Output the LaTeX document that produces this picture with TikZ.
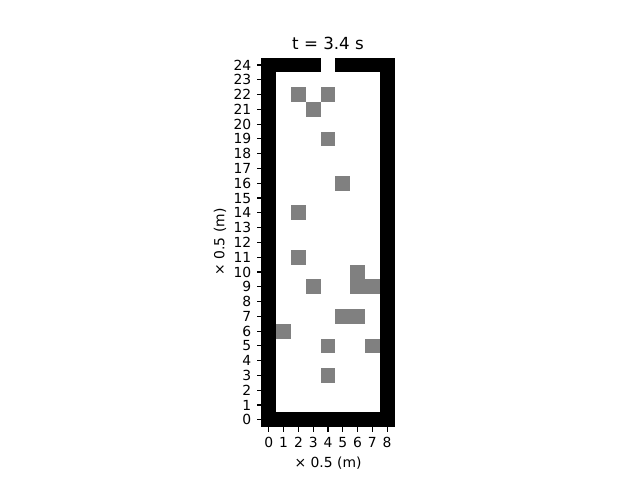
\documentclass[tikz,border=0pt]{standalone}
\usepackage{fontspec}
\setmainfont{DejaVu Sans}
\begin{document}
\begin{tikzpicture}[x=0.72pt,y=-0.72pt,
  wall/.style={fill=black},
  obs/.style={fill=black!50},
  tickline/.style={line width=0.8pt,black},
  ticklab/.style={font=\fontsize{10}{12}\selectfont, inner sep=0pt},
  axlab/.style={font=\fontsize{10}{12}\selectfont, inner sep=0pt},
  titlelab/.style={font=\fontsize{12}{14}\selectfont, inner sep=0pt}]
\useasboundingbox (0,0) rectangle (640,480);
\def\X{261.47}\def\Y{427.2}\def\c{14.784}
% walls
\fill[wall] (\X,\Y) rectangle ({\X+\c},{\Y-25*\c});
\fill[wall] ({\X+8*\c},\Y) rectangle ({\X+9*\c},{\Y-25*\c});
\fill[wall] (\X,\Y) rectangle ({\X+9*\c},{\Y-\c});
\fill[wall] (\X,{\Y-24*\c}) rectangle ({\X+4*\c},{\Y-25*\c});
\fill[wall] ({\X+5*\c},{\Y-24*\c}) rectangle ({\X+9*\c},{\Y-25*\c});
% obstacles
\foreach \i/\j in {2/22,4/22,3/21,4/19,5/16,2/14,2/11,6/10,3/9,6/9,7/9,5/7,6/7,1/6,4/5,7/5,4/3}
  \fill[obs] ({\X+\i*\c},{\Y-\j*\c}) rectangle ({\X+(\i+1)*\c},{\Y-(\j+1)*\c});
% x ticks
\foreach \i in {0,...,8}{
  \coordinate (xa\i) at ({\X+(\i+0.5)*\c},\Y);
  \coordinate (xb\i) at ({\X+(\i+0.5)*\c},{\Y+4.86});
  \draw[tickline] (xa\i) -- (xb\i);
  \node[ticklab,anchor=north] (xt\i) at ({\X+(\i+0.5)*\c},{\Y+9.9}) {\i};
}
% y ticks
\foreach \j in {0,...,24}{
  \coordinate (ya\j) at (\X,{\Y-(\j+0.5)*\c});
  \coordinate (yb\j) at ({\X-4.86},{\Y-(\j+0.5)*\c});
  \draw[tickline] (ya\j) -- (yb\j);
  \node[ticklab,anchor=east] (yt\j) at ({\X-9.9},{\Y-(\j+0.5)*\c}) {\j};
}
\node[axlab] (xl) at (328,463) {× 0.5 (m)};
\node[axlab,rotate=90] (yl) at (220,242) {× 0.5 (m)};
\node[titlelab] (ttl) at (328,43) {t = 3.4 s};
\end{tikzpicture}
\end{document}
